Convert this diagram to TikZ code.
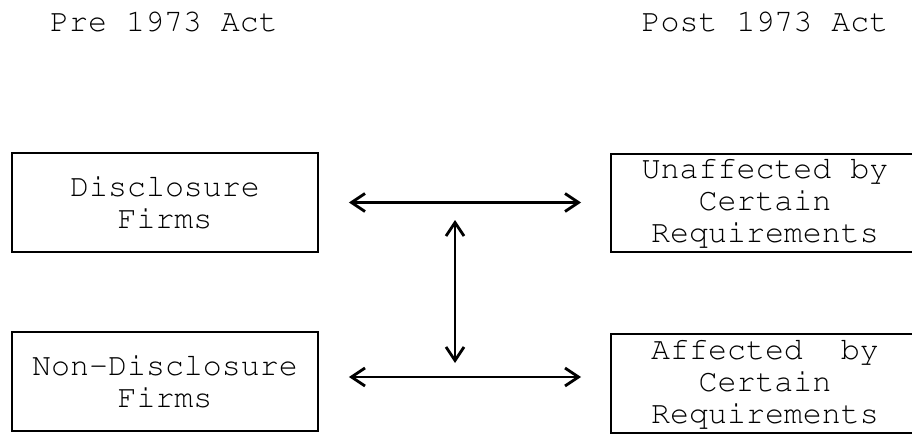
\documentclass[tikz,border=0pt]{standalone}
\usepackage[T1]{fontenc}
\usetikzlibrary{arrows.meta}
\begin{document}
\begin{tikzpicture}[
        every node/.style={font=\fontfamily{pcr}\fontsize{18}{18.3}\selectfont},
        firmbox/.style={draw,line width=1.1pt,align=center,inner sep=0pt,minimum width=6.12cm,minimum height=1.97cm},
        actbox/.style={firmbox,minimum width=6.16cm},
        link/.style={line width=1.6pt,{Straight Barb[length=2.7mm,width=3.6mm]}-{Straight Barb[length=2.7mm,width=3.6mm]}}]
        \useasboundingbox (0,0) rectangle (18.24,8.74);
        \node[anchor=base] (pre) at (3.28,8.10) {Pre 1973 Act};
        \node[anchor=base] (post) at (15.30,8.10) {Post 1973 Act};

        \node[firmbox] (disc) at (3.30,4.69) {Disclosure\\Firms};
        \node[firmbox] (nondisc) at (3.30,1.11) {Non-Disclosure\\Firms};
        \node[actbox] (unaff) at (15.30,4.68) {Unaffected by\\Certain\\Requirements};
        \node[actbox] (aff) at (15.30,1.07) {Affected~~by\\Certain\\Requirements};

        \coordinate (upper) at (9.10,4.34);
        \coordinate (lower) at (9.10,1.48);

        \draw[link,shorten <=0.6cm,shorten >=0.58cm] (disc.east) -- (unaff.west |- disc.east);
        \draw[link,shorten <=0.6cm,shorten >=0.58cm] ([yshift=0.09cm]nondisc.east) -- ([yshift=0.09cm]aff.west |- nondisc.east);
        \draw[link] (upper) -- (lower);
\end{tikzpicture}
\end{document}
